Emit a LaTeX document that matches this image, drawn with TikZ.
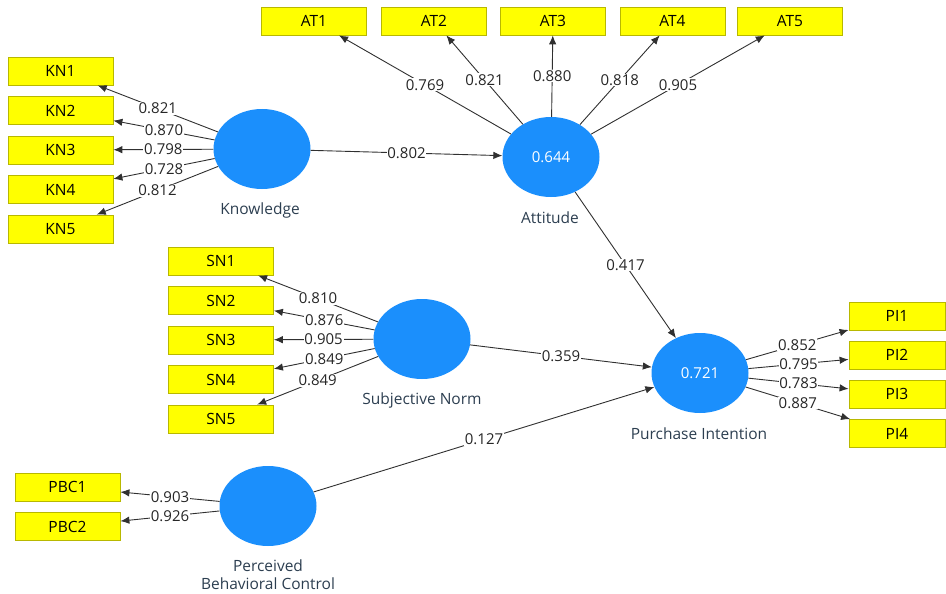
\documentclass[tikz,border=0pt]{standalone}
\usepackage{fontspec}
\setmainfont{Open Sans}
\usetikzlibrary{arrows.meta,shapes.geometric}
\definecolor{lvblue}{HTML}{1B8FFC}
\definecolor{mvyellow}{HTML}{FFFF00}
\definecolor{mvborder}{HTML}{B8B800}
\definecolor{linegray}{HTML}{303030}
\definecolor{lbltext}{HTML}{2C3E50}
\tikzset{
  latent/.style={ellipse,fill=lvblue,draw=none,minimum width=97pt,minimum height=80pt,inner sep=0pt,text=white,font=\fontsize{15}{17}\selectfont},
  manifest/.style={rectangle,fill=mvyellow,draw=mvborder,line width=0.8pt,minimum width=105pt,minimum height=28pt,inner sep=0pt,font=\fontsize{15.5}{17}\selectfont},
  lvname/.style={text=lbltext,font=\fontsize{15.5}{17}\selectfont,inner sep=0pt},
  conn/.style={draw=linegray,line width=0.9pt,-{Latex[length=9pt,width=7.5pt]}},
  val/.style={fill=white,inner sep=0.8pt,text=black!85,font=\fontsize{15}{17}\selectfont}
}
\begin{document}
\begin{tikzpicture}[x=1pt,y=-1pt]
\useasboundingbox (0,0) rectangle (946,594);
% latent variables
\node[latent] (KN) at (262,149) {};
\node[latent] (AT) at (551,157) {0.644};
\node[latent] (SN) at (422,339) {};
\node[latent] (PI) at (700,373) {0.721};
\node[latent] (PBC) at (268,506) {};
% names
\node[lvname] (KNl) at (260,210) {Knowledge};
\node[lvname] (ATl) at (550,218) {Attitude};
\node[lvname] (SNl) at (422,400) {Subjective Norm};
\node[lvname] (PIl) at (699,434) {Purchase Intention};
\node[lvname] (PBCl1) at (268,566) {Perceived};
\node[lvname] (PBCl2) at (268,584) {Behavioral Control};
% indicators
\node[manifest] (KN1) at (60.5,71) {KN1};
\node[manifest] (KN2) at (60.5,110.5) {KN2};
\node[manifest] (KN3) at (60.5,150) {KN3};
\node[manifest] (KN4) at (60.5,189.5) {KN4};
\node[manifest] (KN5) at (60.5,229) {KN5};
\node[manifest] (AT1) at (314,21) {AT1};
\node[manifest] (AT2) at (434,21) {AT2};
\node[manifest] (AT3) at (553,21) {AT3};
\node[manifest] (AT4) at (672.5,21) {AT4};
\node[manifest] (AT5) at (790,21) {AT5};
\node[manifest] (SN1) at (221,261) {SN1};
\node[manifest] (SN2) at (221,300.5) {SN2};
\node[manifest] (SN3) at (221,340) {SN3};
\node[manifest] (SN4) at (221,379.5) {SN4};
\node[manifest] (SN5) at (221,419) {SN5};
\node[manifest,minimum width=96pt] (PI1) at (897,316) {PI1};
\node[manifest,minimum width=96pt] (PI2) at (897,355) {PI2};
\node[manifest,minimum width=96pt] (PI3) at (897,394) {PI3};
\node[manifest,minimum width=96pt] (PI4) at (897,433.5) {PI4};
\node[manifest] (PBC1) at (67.5,487) {PBC1};
\node[manifest] (PBC2) at (67.5,526.5) {PBC2};
% loadings
\draw[conn] (KN) -- node[val] {0.821} (KN1);
\draw[conn] (KN) -- node[val] {0.870} (KN2);
\draw[conn] (KN) -- node[val] {0.798} (KN3);
\draw[conn] (KN) -- node[val] {0.728} (KN4);
\draw[conn] (KN) -- node[val] {0.812} (KN5);
\draw[conn] (AT) -- node[val] {0.769} (AT1);
\draw[conn] (AT) -- node[val] {0.821} (AT2);
\draw[conn] (AT) -- node[val] {0.880} (AT3);
\draw[conn] (AT) -- node[val] {0.818} (AT4);
\draw[conn] (AT) -- node[val] {0.905} (AT5);
\draw[conn] (SN) -- node[val] {0.810} (SN1);
\draw[conn] (SN) -- node[val] {0.876} (SN2);
\draw[conn] (SN) -- node[val] {0.905} (SN3);
\draw[conn] (SN) -- node[val] {0.849} (SN4);
\draw[conn] (SN) -- node[val] {0.849} (SN5);
\draw[conn] (PI) -- node[val] {0.852} (PI1);
\draw[conn] (PI) -- node[val] {0.795} (PI2);
\draw[conn] (PI) -- node[val] {0.783} (PI3);
\draw[conn] (PI) -- node[val] {0.887} (PI4);
\draw[conn] (PBC) -- node[val] {0.903} (PBC1);
\draw[conn] (PBC) -- node[val] {0.926} (PBC2);
% paths
\draw[conn] (KN) -- node[val] {0.802} (AT);
\draw[conn] (AT) -- node[val] {0.417} (PI);
\draw[conn] (SN) -- node[val] {0.359} (PI);
\draw[conn] (PBC) -- node[val] {0.127} (PI);
\end{tikzpicture}
\end{document}
